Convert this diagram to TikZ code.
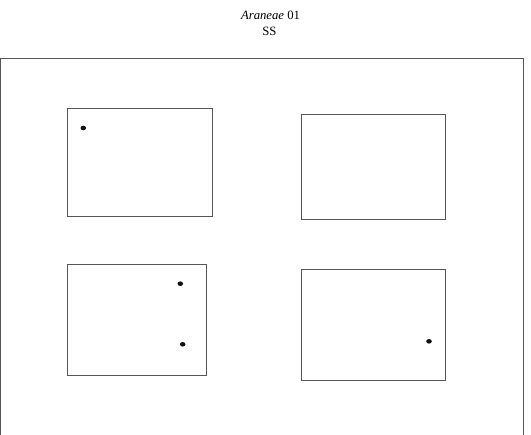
\documentclass[tikz,border=0pt]{standalone}
\usepackage{fontspec}
\setmainfont{Liberation Serif}
\usetikzlibrary{positioning, shapes.geometric}
\definecolor{frameGray}{HTML}{555555}
\definecolor{dotBlack}{HTML}{111111}

\begin{document}
\begin{tikzpicture}[
    x=1pt, y=-1pt,
    arena/.style={
        draw=frameGray, line width=1pt, inner sep=0pt, rectangle
    },
    spider/.style={
        ellipse, fill=dotBlack, inner sep=0pt, minimum width=5.6pt, minimum height=4.6pt
    },
    heading/.style={font=\fontsize{12.7}{16}\selectfont, inner sep=0pt, anchor=base},
]
\useasboundingbox (0,0) rectangle (531,435);

% ============================================
% Heading
% ============================================
\node[heading] (title) at (270.5,19.3) {\textit{Araneae} 01};
\node[heading] (code) at (269.5,35.3) {SS};

% ============================================
% Outer frame (bottom edge runs off the page)
% ============================================
\draw[draw=frameGray, line width=1pt] (0.5,435) |- (523.3,58.3) -- (523.3,435);

% ============================================
% Arenas
% ============================================
\node[arena, minimum width=145pt, minimum height=107.7pt] (arenaA) at (139.8,162.2) {};
\node[arena, minimum width=144.7pt, minimum height=105.3pt] (arenaB) at (373.4,166.7) {};
\node[arena, minimum width=139.4pt, minimum height=111.7pt] (arenaC) at (137,319.9) {};
\node[arena, minimum width=144.7pt, minimum height=111pt] (arenaD) at (373.4,325.5) {};

% ============================================
% Spiders
% ============================================
\node[spider] (s1) at (83.3,128) {};
\node[spider] (s2) at (180.3,283.7) {};
\node[spider] (s3) at (182.7,344.3) {};
\node[spider] (s4) at (429,341.3) {};

\end{tikzpicture}
\end{document}
